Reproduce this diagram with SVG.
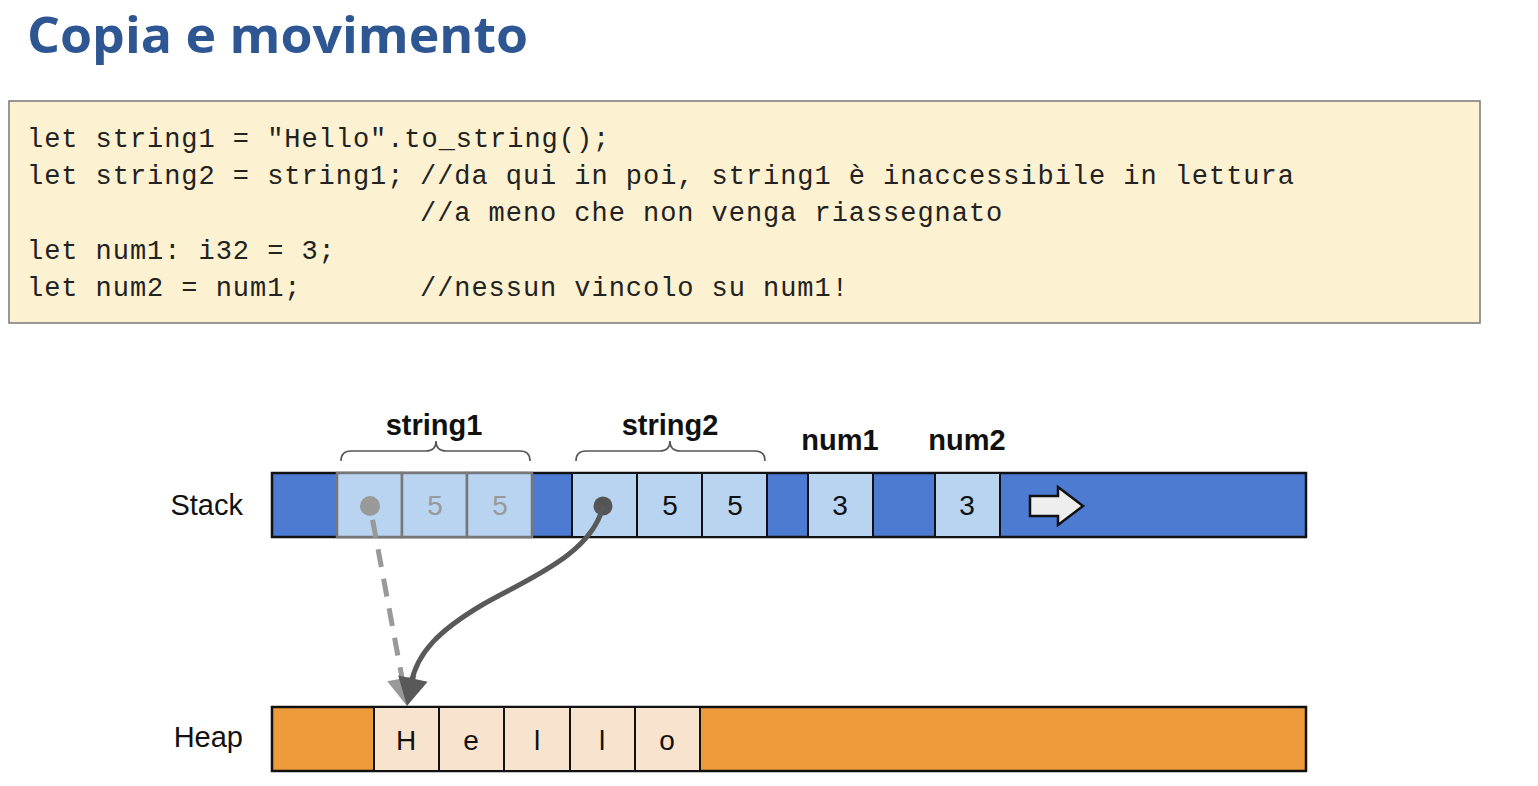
<svg xmlns="http://www.w3.org/2000/svg" width="1538" height="786" viewBox="0 0 1538 786">
<style>
.code{font-family:"Liberation Mono","DejaVu Sans Mono",monospace;font-size:27px;letter-spacing:0.95px;fill:#222}
.lbl{font-family:"Liberation Sans",Arial,sans-serif;font-weight:bold;font-size:29px;fill:#111;text-anchor:middle}
.side{font-family:"Liberation Sans",Arial,sans-serif;font-size:29px;fill:#111;text-anchor:end}
.val{font-family:"Liberation Sans",Arial,sans-serif;font-size:28px;fill:#111;text-anchor:middle}
.fade{fill:#999}
.bar{stroke:#111;stroke-width:2.5}
.cell{fill:#b8d4f1;stroke:#111;stroke-width:2}
.fcell{fill:#b8d4f1;stroke:#777;stroke-width:2.5}
.hcell{fill:#f7e3ce;stroke:#111;stroke-width:2}
.brace{fill:none;stroke:#555;stroke-width:1.6}
</style>
<rect width="1538" height="786" fill="#ffffff"/>
<g id="title">
<text x="27" y="53" font-family="'Open Sans','Noto Sans',sans-serif" font-weight="bold" font-size="51" fill="#2d5693" textLength="501" lengthAdjust="spacingAndGlyphs">Copia e movimento</text>
</g>
<g id="code">
<rect x="9" y="101" width="1471" height="222" fill="#fcf1d0" stroke="#777" stroke-width="1.5"/>
<text class="code" x="27" y="147" xml:space="preserve">let string1 = "Hello".to_string();</text>
<text class="code" x="27" y="184" xml:space="preserve">let string2 = string1;</text>
<text class="code" x="420" y="184" xml:space="preserve">//da qui in poi, string1 è inaccessibile in lettura</text>
<text class="code" x="420" y="221" xml:space="preserve">//a meno che non venga riassegnato</text>
<text class="code" x="27" y="259" xml:space="preserve">let num1: i32 = 3;</text>
<text class="code" x="27" y="296" xml:space="preserve">let num2 = num1;</text>
<text class="code" x="420" y="296" xml:space="preserve">//nessun vincolo su num1!</text>
</g>
<g id="labels">
<text class="lbl" x="434" y="435">string1</text>
<path class="brace" d="M341,461 Q341,451 351,451 L426,451 Q436,451 436,441 Q436,451 446,451 L520,451 Q530,451 530,461"/>
<text class="lbl" x="670" y="435">string2</text>
<path class="brace" d="M576,461 Q576,451 586,451 L660,451 Q670,451 670,441 Q670,451 680,451 L755,451 Q765,451 765,461"/>
<text class="lbl" x="840" y="450">num1</text>
<text class="lbl" x="967" y="450">num2</text>
</g>
<g id="stack">
<text class="side" x="243" y="515">Stack</text>
<rect class="bar" x="272" y="473" width="1034" height="64" fill="#4e7bd2"/>
<rect class="fcell" x="337" y="473" width="65" height="64"/>
<rect class="fcell" x="402" y="473" width="65" height="64"/>
<rect class="fcell" x="467" y="473" width="65" height="64"/>
<text class="val fade" x="435" y="515">5</text>
<text class="val fade" x="500" y="515">5</text>
<rect class="cell" x="572" y="473" width="65" height="64"/>
<rect class="cell" x="637" y="473" width="65" height="64"/>
<rect class="cell" x="702" y="473" width="65" height="64"/>
<text class="val" x="670" y="515">5</text>
<text class="val" x="735" y="515">5</text>
<rect class="cell" x="808" y="473" width="65" height="64"/>
<text class="val" x="840" y="515">3</text>
<rect class="cell" x="935" y="473" width="65" height="64"/>
<text class="val" x="967" y="515">3</text>
<polygon points="1030,496 1058,496 1058,487 1083,506 1058,525 1058,516 1030,516" fill="#eeeeee" stroke="#111" stroke-width="2.5" stroke-linejoin="miter"/>
</g>
<g id="heap">
<text class="side" x="243" y="747">Heap</text>
<rect class="bar" x="272" y="707" width="1034" height="64" fill="#ee9b3b"/>
<rect class="hcell" x="374" y="707" width="65" height="64"/>
<rect class="hcell" x="439" y="707" width="65" height="64"/>
<rect class="hcell" x="504" y="707" width="66" height="64"/>
<rect class="hcell" x="570" y="707" width="65" height="64"/>
<rect class="hcell" x="635" y="707" width="65" height="64"/>
<text class="val" x="406" y="750">H</text>
<text class="val" x="471" y="750">e</text>
<text class="val" x="537" y="750">l</text>
<text class="val" x="602" y="750">l</text>
<text class="val" x="667" y="750">o</text>
</g>
<g id="connectors">
<circle cx="370" cy="506" r="10" fill="#999"/>
<path d="M370,506 L403,683" fill="none" stroke="#999" stroke-width="5" stroke-dasharray="18 12" stroke-dashoffset="-14"/>
<polygon points="407,706 416.6,675.8 387.2,681.2" fill="#999"/>
<circle cx="603" cy="506" r="9.5" fill="#555"/>
<path d="M603,506 C592,555 525,580 482,605 C440,630 417,652 411,684" fill="none" stroke="#595959" stroke-width="5"/>
<polygon points="407,706 427.6,681.7 398.2,675.5" fill="#595959"/>
</g>
</svg>
